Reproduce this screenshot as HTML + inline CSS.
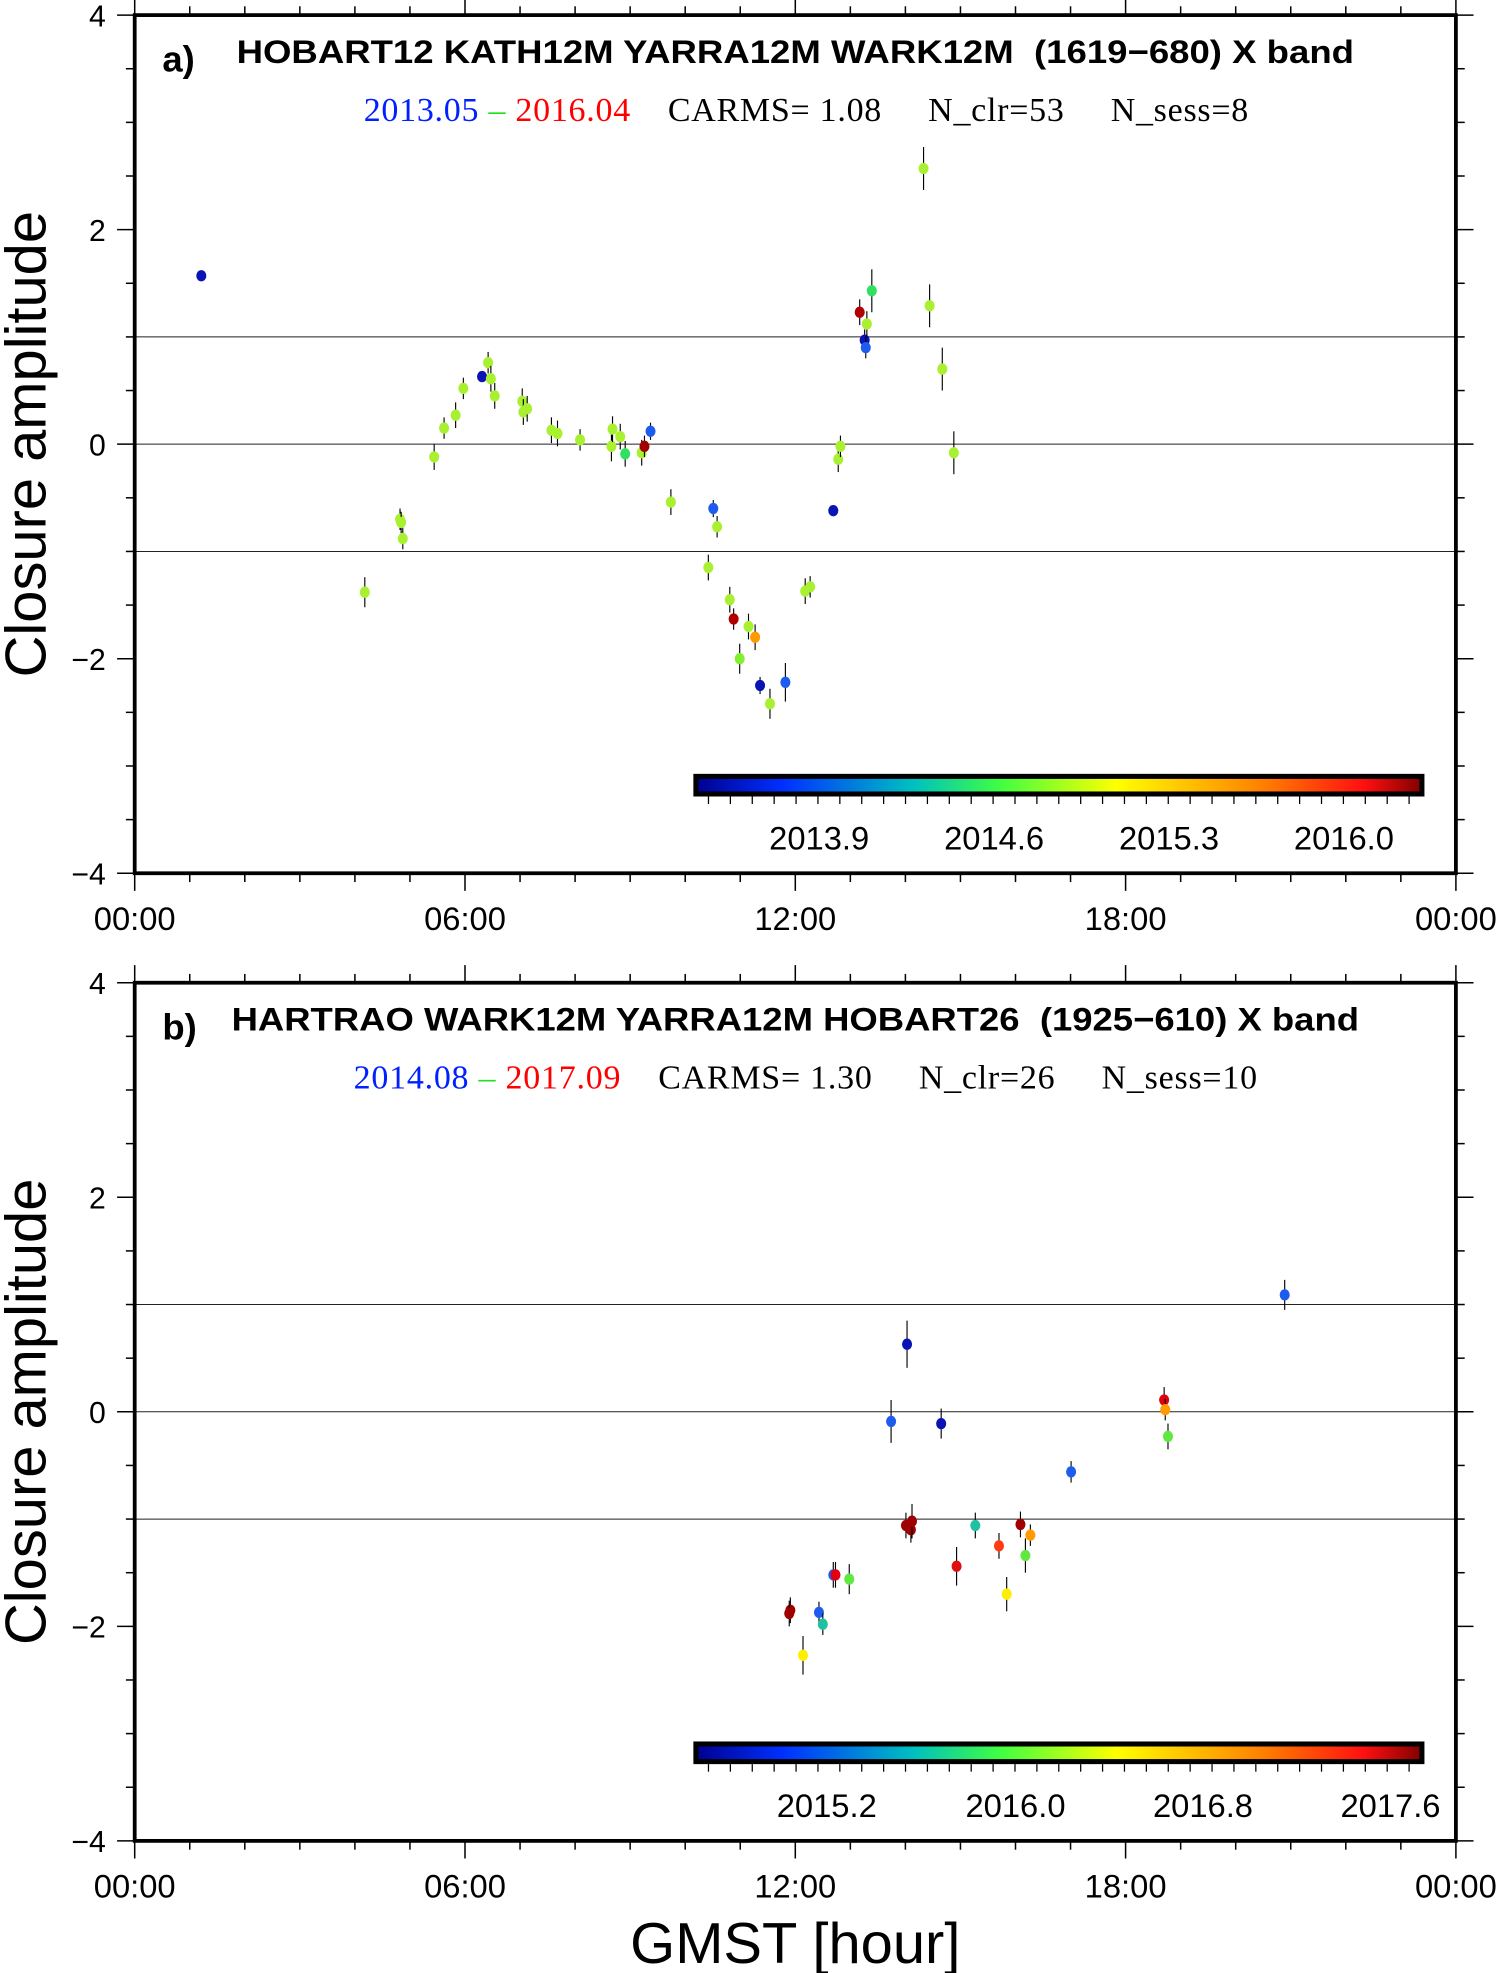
<!DOCTYPE html>
<html><head><meta charset="utf-8"><style>
html,body{margin:0;padding:0;background:#fff}
svg{display:block}
text{white-space:pre}
</style></head><body>
<svg id="chart" width="1500" height="1973" viewBox="0 0 1192 1568" xmlns="http://www.w3.org/2000/svg">
<defs>
<linearGradient id="jet" x1="0" x2="1" y1="0" y2="0">
<stop offset="0" stop-color="#00008f"/><stop offset="0.12" stop-color="#0030ff"/>
<stop offset="0.3" stop-color="#00c0c0"/><stop offset="0.42" stop-color="#40ff40"/>
<stop offset="0.58" stop-color="#ffff00"/><stop offset="0.78" stop-color="#ff8000"/>
<stop offset="0.92" stop-color="#ff1010"/><stop offset="1" stop-color="#800000"/>
</linearGradient>
</defs>
<g id="root"></g>
</svg>
<script>
// Panel a data
const aHours=[1.21,4.18,4.82,4.84,4.87,5.44,5.62,5.83,5.97,6.31,6.42,6.47,6.54,7.04,7.06,7.13,7.57,7.68,8.09,8.66,8.68,8.82,8.91,9.21,9.26,9.37,9.74,10.42,10.51,10.58,10.81,10.88,10.99,11.15,11.27,11.36,11.54,11.82,12.18,12.27,12.69,12.78,12.82,13.17,13.26,13.28,13.30,13.39,14.33,14.44,14.67,14.88];
const aValues=[1.57,-1.38,-0.70,-0.73,-0.88,-0.12,0.15,0.27,0.52,0.63,0.76,0.61,0.45,0.40,0.30,0.33,0.13,0.10,0.04,-0.02,0.14,0.07,-0.09,-0.08,-0.02,0.12,-0.54,-1.15,-0.60,-0.77,-1.45,-1.63,-2.00,-1.70,-1.80,-2.25,-2.42,-2.22,-1.37,-1.33,-0.62,-0.14,-0.02,1.23,0.97,0.90,1.12,1.43,2.57,1.29,0.70,-0.08];
const aErrors=[0.05,0.14,0.10,0.10,0.10,0.12,0.10,0.12,0.10,0.05,0.10,0.12,0.12,0.12,0.12,0.12,0.12,0.12,0.10,0.14,0.12,0.12,0.12,0.12,0.10,0.08,0.12,0.12,0.08,0.10,0.12,0.10,0.14,0.12,0.12,0.08,0.14,0.18,0.12,0.10,0.05,0.12,0.10,0.12,0.10,0.10,0.12,0.20,0.20,0.20,0.20,0.20];
const aColors=["#0a14b4","#a8f030","#a8f030","#a8f030","#a8f030","#a8f030","#a8f030","#a8f030","#a8f030","#0a14b4","#a8f030","#a8f030","#a8f030","#a8f030","#a8f030","#a8f030","#a8f030","#a8f030","#a8f030","#a8f030","#a8f030","#a8f030","#30e060","#a8f030","#a00000","#1e5cf0","#a8f030","#a8f030","#1e5cf0","#a8f030","#a8f030","#b00000","#80f030","#a8f030","#ff9a00","#0a14b4","#a8f030","#1e5cf0","#a8f030","#a8f030","#0a14b4","#a8f030","#a8f030","#b00000","#0a14b4","#1e5cf0","#a8f030","#30e060","#a8f030","#a8f030","#a8f030","#a8f030"];
// Panel b data
const bHours=[11.91,11.89,12.14,12.43,12.50,12.69,12.73,12.98,13.74,14.01,14.03,14.10,14.12,14.65,14.93,15.27,15.70,15.84,16.09,16.18,16.27,17.01,18.70,18.72,18.77,20.89];
const bValues=[-1.85,-1.88,-2.27,-1.87,-1.98,-1.52,-1.52,-1.56,-0.09,-1.06,0.63,-1.10,-1.02,-0.11,-1.44,-1.06,-1.25,-1.70,-1.05,-1.34,-1.15,-0.56,0.11,0.02,-0.23,1.09];
const bErrors=[0.12,0.12,0.18,0.10,0.10,0.12,0.12,0.14,0.20,0.12,0.22,0.12,0.16,0.14,0.18,0.12,0.12,0.16,0.12,0.16,0.10,0.10,0.12,0.10,0.12,0.14];
const bColors=["#a00000","#a00000","#ffee00","#1e5cf0","#20c0a0","#1e5cf0","#e00010","#60e840","#1e5cf0","#a00000","#0a14b4","#a00000","#a00000","#0a14b4","#e01010","#20c0a0","#ff3a10","#ffee00","#a00000","#60e840","#ff9a00","#1e5cf0","#e00010","#ff9a00","#60e840","#1e5cf0"];
const xTickLabels=["00:00","06:00","12:00","18:00","00:00"];
const yTickLabels=["4","2","0","\u22122","\u22124"];
const aBarLabels=["2013.9","2014.6","2015.3","2016.0"];
const bBarLabels=["2015.2","2016.0","2016.8","2017.6"];

const NS="http://www.w3.org/2000/svg";
const root=document.getElementById('root');
function el(tag,attrs,parent,text){const e=document.createElementNS(NS,tag);for(const k in attrs)e.setAttribute(k,attrs[k]);if(text!==undefined)e.textContent=text;(parent||root).appendChild(e);return e;}
const X0=107,X1=1157;
function xs(h){return X0+(X1-X0)*h/24;}

function panel(top,hours,vals,errs,cols,barLabels,barLabelX,letter,title,titleLen,d1,d2,stats,titleX,subX,subLen){
  const bot=top+682;
  const ys=v=>top+(4-v)/8*(bot-top);
  const g=el('g',{});
  
  
  [1,0,-1].forEach(v=>{const l=el('line',{x1:X0,x2:X1,y1:ys(v),y2:ys(v),stroke:'#222','stroke-width':0.8},g);
    });
  for(let v=-4;v<=4.001;v+=0.5){const maj=Math.abs(v%2)<1e-6;
    el('line',{x1:X0-(maj?14:7),x2:X0,y1:ys(v),y2:ys(v),stroke:'#000','stroke-width':1.2},g);
    el('line',{x1:X1,x2:X1+(maj?14:7),y1:ys(v),y2:ys(v),stroke:'#000','stroke-width':1.2},g);}
  yTickLabels.forEach((t,i)=>{const v=4-2*i;const tx=el('text',{x:84,y:ys(v)+9,'text-anchor':'end','font-family':'Liberation Sans, sans-serif','font-size':24},g,t);
    });
  for(let h=0;h<=24;h++){const maj=h%6==0;
    el('line',{x1:xs(h),x2:xs(h),y1:bot,y2:bot+(maj?14:7),stroke:'#000','stroke-width':1.2},g);
    el('line',{x1:xs(h),x2:xs(h),y1:top,y2:top-(maj?14:7),stroke:'#000','stroke-width':1.2},g);}
  xTickLabels.forEach((t,i)=>{const tx=el('text',{x:xs(i*6),y:bot+45,'text-anchor':'middle','font-family':'Liberation Sans, sans-serif','font-size':26},g,t);
    });
  const fr=el('rect',{x:X0,y:top,width:X1-X0,height:bot-top,fill:'none',stroke:'#000','stroke-width':3},g);
  
  const yt=el('text',{transform:`translate(36,${(top+bot)/2}) rotate(-90)`,'text-anchor':'middle','font-family':'Liberation Sans, sans-serif','font-size':46},g,'Closure amplitude');
  
  const lt=el('text',{x:129,y:top+45,'font-family':'Liberation Sans, sans-serif','font-size':29,'font-weight':'bold'},g,letter+')');
  
  const tt=el('text',{x:titleX,y:top+38,'font-family':'Liberation Sans, sans-serif','font-size':26,'font-weight':'bold',textLength:titleLen,lengthAdjust:'spacingAndGlyphs'},g,title);
  
  const st=el('text',{x:subX,y:top+84,'font-family':'Liberation Serif, serif','font-size':27,textLength:subLen,lengthAdjust:'spacing'},g);
  
  el('tspan',{fill:'#0020ff'},st,d1);el('tspan',{fill:'#20e020'},st,' \u2013 ');el('tspan',{fill:'#ff0000'},st,d2);el('tspan',{fill:'#000'},st,stats);
  const cb=el('rect',{x:553,y:top+605,width:577,height:14,fill:'url(#jet)',stroke:'#000','stroke-width':4},g);
  
  for(let x=563;x<1130;x+=17.4){el('line',{x1:x,x2:x,y1:top+621,y2:top+627,stroke:'#000','stroke-width':1},g);}
  barLabels.forEach((t,i)=>{const tx=el('text',{x:barLabelX[i],y:top+663,'text-anchor':'middle','font-family':'Liberation Sans, sans-serif','font-size':26},g,t);
    });
  hours.forEach((h,i)=>{const x=xs(h),y=ys(vals[i]);
    const e=el('line',{x1:x,x2:x,y1:ys(vals[i]+errs[i]),y2:ys(vals[i]-errs[i]),stroke:'#000','stroke-width':0.9},g);
    
    const c=el('ellipse',{cx:x,cy:y,rx:4,ry:4.5,fill:cols[i]},g);
    });
}
const barXA=[651,790,929,1068], barXB=[657,807,956,1105];
panel(12,aHours,aValues,aErrors,aColors,aBarLabels,barXA,'a','HOBART12 KATH12M YARRA12M WARK12M  (1619\u2212680) X band',888,'2013.05','2016.04','    CARMS= 1.08     N_clr=53     N_sess=8',188,289,703);
panel(781,bHours,bValues,bErrors,bColors,bBarLabels,barXB,'b','HARTRAO WARK12M YARRA12M HOBART26  (1925\u2212610) X band',896,'2014.08','2017.09','    CARMS= 1.30     N_clr=26     N_sess=10',184,281,718);
const xt=el('text',{x:632,y:1560,'text-anchor':'middle','font-family':'Liberation Sans, sans-serif','font-size':46},root,'GMST [hour]');


</script>
</body></html>
